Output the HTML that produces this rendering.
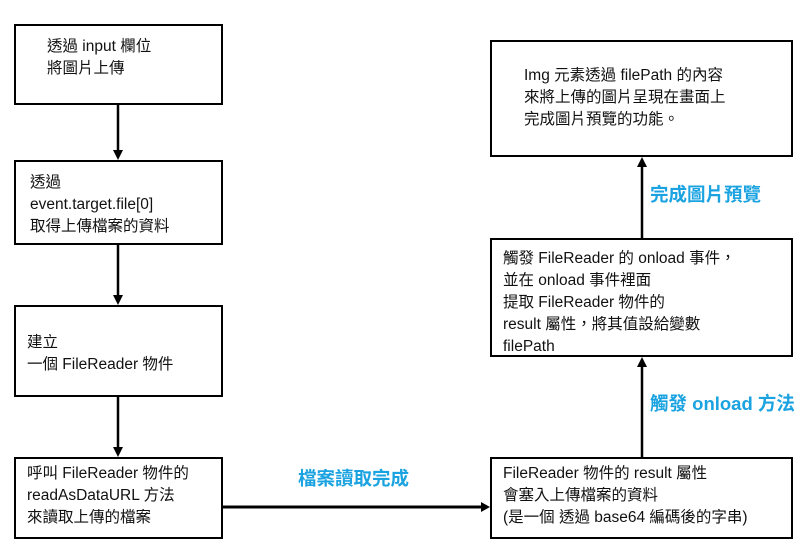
<!DOCTYPE html>
<html><head><meta charset="utf-8"><style>
body{margin:0;width:811px;height:555px;background:#fff;position:relative;overflow:hidden;font-family:"Liberation Sans","Noto Sans CJK TC",sans-serif;}
.b{position:absolute;border:2.8px solid #000;box-sizing:border-box;font-size:15.5px;line-height:22px;color:#111;}
.l{position:absolute;color:#1aa3e0;font-weight:bold;font-size:18.5px;}
</style></head><body>
<div class="b" style="left:14px;top:24px;width:209px;height:81px;padding:10px 0 0 31px">透過 input 欄位<br>將圖片上傳</div>
<div class="b" style="left:14px;top:160px;width:209px;height:85px;padding:10px 0 0 14px">透過<br>event.target.file[0]<br>取得上傳檔案的資料</div>
<div class="b" style="left:14px;top:305px;width:209px;height:92px;padding:25px 0 0 11px">建立<br>一個 FileReader 物件</div>
<div class="b" style="left:14px;top:457px;width:209px;height:82px;padding:4px 0 0 11px">呼叫 FileReader 物件的<br>readAsDataURL 方法<br>來讀取上傳的檔案</div>
<div class="b" style="left:490px;top:40px;width:303px;height:117px;padding:23px 0 0 32px">Img 元素透過 filePath 的內容<br>來將上傳的圖片呈現在畫面上<br>完成圖片預覽的功能。</div>
<div class="b" style="left:490px;top:238px;width:303px;height:119px;padding:8px 0 0 11px">觸發 FileReader 的 onload 事件，<br>並在 onload 事件裡面<br>提取 FileReader 物件的<br>result 屬性，將其值設給變數<br>filePath</div>
<div class="b" style="left:490px;top:457px;width:303px;height:82px;padding:4px 0 0 11px">FileReader 物件的 result 屬性<br>會塞入上傳檔案的資料<br>(是一個 透過 base64 編碼後的字串)</div>
<svg width="811" height="555" style="position:absolute;left:0;top:0">
<g stroke="#000" stroke-width="2.5">
<line x1="118" y1="105" x2="118" y2="152"/>
<line x1="118" y1="245" x2="118" y2="297"/>
<line x1="118" y1="397" x2="118" y2="449"/>
<line x1="223" y1="507" x2="482" y2="507" stroke-width="3"/>
<line x1="642" y1="457" x2="642" y2="365"/>
<line x1="642" y1="238" x2="642" y2="165"/>
</g>
<g fill="#000">
<polygon points="113,150 123,150 118,160"/>
<polygon points="113,295 123,295 118,305"/>
<polygon points="113,447 123,447 118,457"/>
<polygon points="481,502 481,512 490,507"/>
<polygon points="637,367 647,367 642,357"/>
<polygon points="637,167 647,167 642,157"/>
</g>
</svg>
<div class="l" style="left:298px;top:465px">檔案讀取完成</div>
<div class="l" style="left:650px;top:181px">完成圖片預覽</div>
<div class="l" style="left:650px;top:390px">觸發 onload 方法</div>
</body></html>
